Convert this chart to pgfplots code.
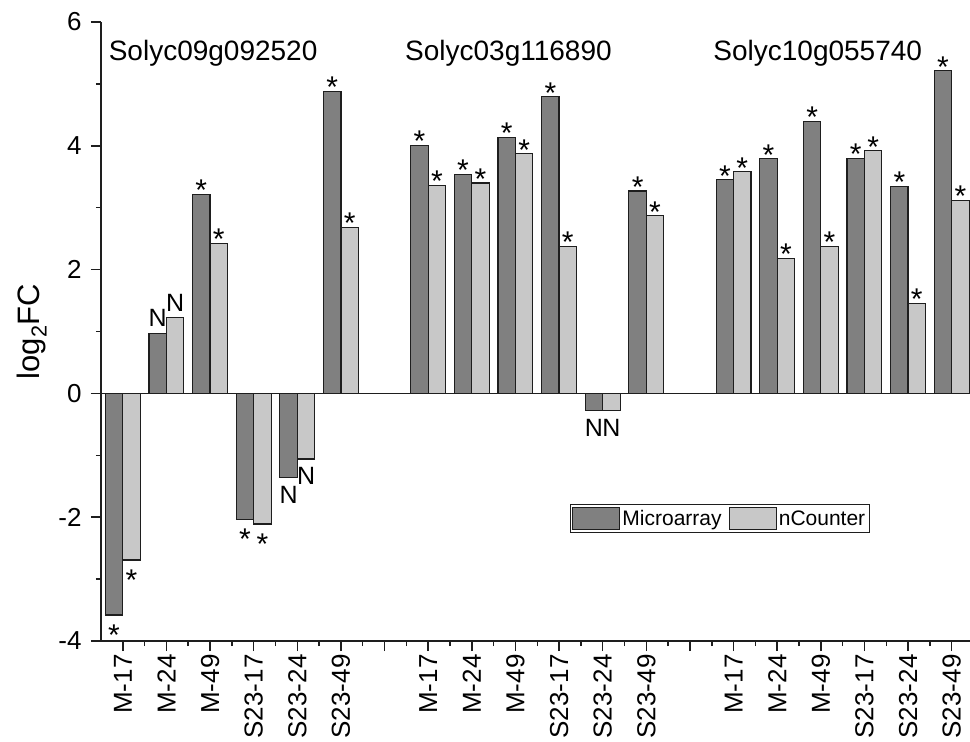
\documentclass[border=0pt]{standalone}
\usepackage{fontspec}
\setmainfont{Liberation Sans}
\usepackage{pgfplots}
\pgfplotsset{compat=1.18}
\definecolor{darkbar}{RGB}{128,128,128}
\definecolor{lightbar}{RGB}{200,200,200}
\definecolor{edge}{RGB}{30,30,30}
\newcommand{\st}{{\fontsize{30bp}{34bp}\selectfont\raisebox{-0.43em}[0.29em][0pt]{*}}}
\newcommand{\nn}{N}
\begin{document}
\begin{tikzpicture}
\begin{axis}[
  scale only axis,
  width=869bp, height=619bp,
  xmin=-0.5, xmax=19.42,
  ymin=-4, ymax=6,
  axis x line*=bottom, axis y line*=left,
  axis line style={line width=1.5bp, edge},
  ybar=0pt, bar width=0.4,
  xtick={0,...,19},
  xticklabels={M-17,M-24,M-49,S23-17,S23-24,S23-49,{},M-17,M-24,M-49,S23-17,S23-24,S23-49,{},M-17,M-24,M-49,S23-17,S23-24,S23-49},
  minor x tick num=1,
  ytick={-4,-2,0,2,4,6},
  yticklabels={-4,-2,0,2,4,6},
  minor y tick num=1,
  extra y ticks={0},
  extra y tick labels={},
  extra y tick style={grid=major, major grid style={edge, line width=1.5bp}},
  tick align=outside,
  major tick length=10bp, minor tick length=5bp,
  tick style={line width=1.5bp, edge},
  x tick label style={rotate=90, anchor=east, font=\fontsize{26bp}{30bp}\selectfont},
  y tick label style={xshift=-6bp, font=\fontsize{26bp}{30bp}\selectfont},
  ylabel={log\textsubscript{2}FC},
  every axis y label/.style={at={(axis description cs:0,0.5)}, xshift=-69bp, rotate=90, anchor=center, font=\fontsize{31bp}{35bp}\selectfont},
  nodes near coords,
  point meta=explicit symbolic,
  visualization depends on={y \as \rawy},
  every node near coord/.append style={font=\fontsize{25bp}{28bp}\selectfont, inner sep=0pt,
     /utils/exec={\pgfmathtruncatemacro{\ispos}{\rawy>0}\ifnum\ispos=1 \tikzset{anchor=south,yshift=6bp}\else\tikzset{anchor=north,yshift=-8bp}\fi}},
  legend style={at={(0.712,0.198)}, anchor=center, draw=edge, line width=0.8bp,
     font=\fontsize{21bp}{24bp}\selectfont, legend columns=2, inner xsep=2bp, inner ysep=2bp,
     /tikz/every even column/.append style={column sep=5bp}},
  every axis plot post/.append style={legend image code/.code={\draw[##1] (0bp,-11bp) rectangle (47bp,11bp);}},
]
\addplot[fill=darkbar, draw=edge, line width=1.2bp] table[x=x, y=y, meta=lab] {
x y lab
0 -3.58 \st
1 0.97 \nn
2 3.21 \st
3 -2.04 \st
4 -1.36 \nn
5 4.88 \st
7 4.01 \st
8 3.54 \st
9 4.14 \st
10 4.79 \st
11 -0.28 \nn
12 3.27 \st
14 3.45 \st
15 3.79 \st
16 4.39 \st
17 3.80 \st
18 3.34 \st
19 5.21 \st
};
\addlegendentry{Microarray}
\addplot[fill=lightbar, draw=edge, line width=1.2bp] table[x=x, y=y, meta=lab] {
x y lab
0 -2.69 \st
1 1.22 \nn
2 2.42 \st
3 -2.11 \st
4 -1.06 \nn
5 2.68 \st
7 3.36 \st
8 3.40 \st
9 3.87 \st
10 2.37 \st
11 -0.28 \nn
12 2.87 \st
14 3.58 \st
15 2.18 \st
16 2.37 \st
17 3.92 \st
18 1.45 \st
19 3.12 \st
};
\addlegendentry{nCounter}
\node[font=\fontsize{28bp}{32bp}\selectfont] at (axis cs:2.07,5.5) {Solyc09g092520};
\node[font=\fontsize{28bp}{32bp}\selectfont] at (axis cs:8.84,5.5) {Solyc03g116890};
\node[font=\fontsize{28bp}{32bp}\selectfont] at (axis cs:15.93,5.5) {Solyc10g055740};
\end{axis}
\pgfresetboundingbox
\path[use as bounding box] ([xshift=-101bp,yshift=-101bp]current axis.south west) rectangle ([yshift=22bp]current axis.north east);
\end{tikzpicture}
\end{document}
